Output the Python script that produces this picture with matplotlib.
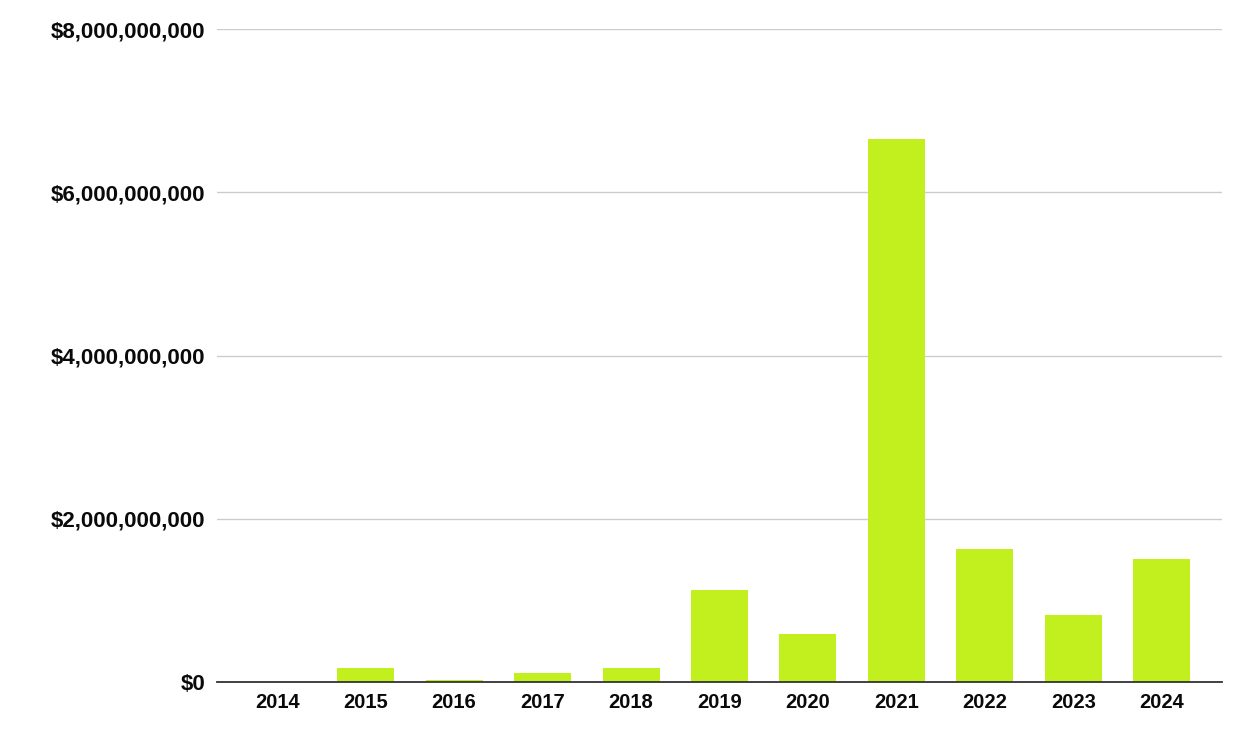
import matplotlib
matplotlib.use("Agg")
import matplotlib.pyplot as plt
from matplotlib.ticker import FuncFormatter

years = ["2014", "2015", "2016", "2017", "2018", "2019", "2020", "2021", "2022", "2023", "2024"]
values = [0.0, 0.175e9, 0.02e9, 0.107e9, 0.175e9, 1.13e9, 0.585e9, 6.65e9, 1.625e9, 0.826e9, 1.507e9]
yticks = [0, 2e9, 4e9, 6e9, 8e9]

plt.rcParams['font.family'] = ['Liberation Sans', 'DejaVu Sans']

fig = plt.figure(figsize=(12.42, 7.54), dpi=100)
ax = fig.add_axes([217/1242, (754-682)/754, (1222-217)/1242, (682-29.3)/754])

x = list(range(len(years)))
ax.bar(x, values, width=0.645, color="#c2f01f", zorder=3)

ax.set_xlim(-0.68, 10.68)
ax.set_ylim(0, 8e9)
ax.set_yticks(yticks)
ax.yaxis.set_major_formatter(FuncFormatter(lambda v, p: "${:,.0f}".format(v)))
ax.set_xticks(x)
ax.set_xticklabels(years)

for lab in ax.get_xticklabels():
    lab.set_fontweight("bold")
    lab.set_fontsize(14.5)
    lab.set_color("#0a0a0a")
for lab in ax.get_yticklabels():
    lab.set_fontweight("bold")
    lab.set_fontsize(16)
    lab.set_color("#0a0a0a")

ax.grid(axis="y", color="#cccccc", linewidth=1.0, zorder=0)
ax.tick_params(axis="both", length=0)
ax.tick_params(axis="y", pad=8.6)
ax.tick_params(axis="x", pad=8)
for s in ["top", "right", "left"]:
    ax.spines[s].set_visible(False)
ax.spines["bottom"].set_color("#333333")
ax.spines["bottom"].set_linewidth(1.3)
ax.spines["bottom"].set_zorder(4)

fig.savefig("out.png", dpi=100, facecolor="white")
